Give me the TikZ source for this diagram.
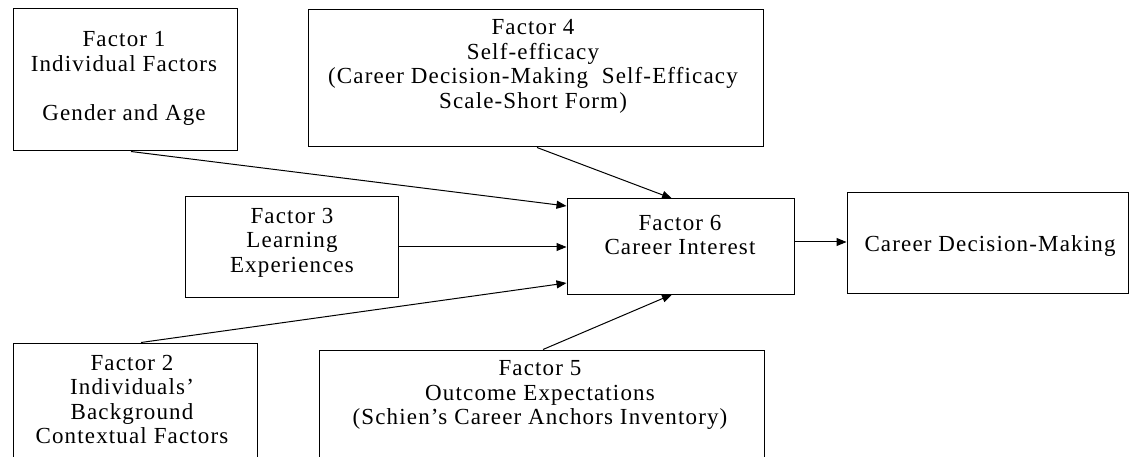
\documentclass[tikz,border=0pt]{standalone}
\usepackage{fontspec}
\setmainfont{Liberation Serif}[LetterSpace=5]
\usetikzlibrary{arrows.meta}
\begin{document}
\begin{tikzpicture}[x=1pt,y=-1pt,
  box/.style={draw=black,line width=1pt,inner sep=0pt,fill=none},
  txt/.style={align=center,inner sep=0pt,font=\fontsize{23}{24.5}\selectfont,text=black},
  conn/.style={draw=black,line width=1pt,-{Triangle[length=10pt,width=8pt]}}]
\useasboundingbox (0,0) rectangle (1138,457);
\clip (0,0) rectangle (1138,457);
% boxes
\node[box,minimum width=224pt,minimum height=142pt] (f1) at (125,80) {};
\node[box,minimum width=455pt,minimum height=137pt] (f4) at (535.5,78.5) {};
\node[box,minimum width=213pt,minimum height=100pt] (f3) at (291.5,247) {};
\node[box,minimum width=227pt,minimum height=95pt] (f6) at (680.5,246.5) {};
\node[box,minimum width=281pt,minimum height=100pt] (cdm) at (987.5,243) {};
\node[box,minimum width=244pt,minimum height=132pt] (f2) at (135,409) {};
\node[box,minimum width=445pt,minimum height=125pt] (f5) at (541.5,412.5) {};
% texts
\node[txt] (f1t) at (124,78.5) {Factor 1\\Individual Factors\\[24.5pt]Gender and Age};
\node[txt] (f4t) at (533,66.5) {Factor 4\\Self-efficacy\\(Career Decision-Making~ Self-Efficacy\\Scale-Short Form)};
\node[txt] (f3t) at (292,242.5) {Factor 3\\Learning\\Experiences};
\node[txt] (f6t) at (680,235) {Factor 6\\Career Interest};
\node[txt] (cdmt) at (990,246) {Career Decision-Making};
\node[txt] (f2t) at (132,399.5) {Factor 2\\Individuals'\\Background\\Contextual Factors};
\node[txt] (f5t) at (540,395) {Factor 5\\Outcome Expectations\\(Schien's Career Anchors Inventory)};
% connectors
\coordinate (c1) at ([xshift=6pt]f1.south);
\coordinate (c2) at ([xshift=1.5pt]f4.south);
\coordinate (c3) at ([xshift=6pt]f2.north);
\coordinate (c4) at ([xshift=1.5pt]f5.north);
\coordinate (c5) at ([yshift=4.5pt]f6.east);
\draw[conn] (c1) -- ([yshift=40.5pt]f6.west);
\draw[conn] (c2) -- ([xshift=-8.5pt]f6.north);
\draw[conn] (f3.east) -- (f3.east -| f6.west);
\draw[conn] (c3) -- ([yshift=-36.5pt]f6.west);
\draw[conn] (c4) -- ([xshift=-8.5pt]f6.south);
\draw[conn] (c5) -- (c5 -| cdm.west);
\end{tikzpicture}
\end{document}
